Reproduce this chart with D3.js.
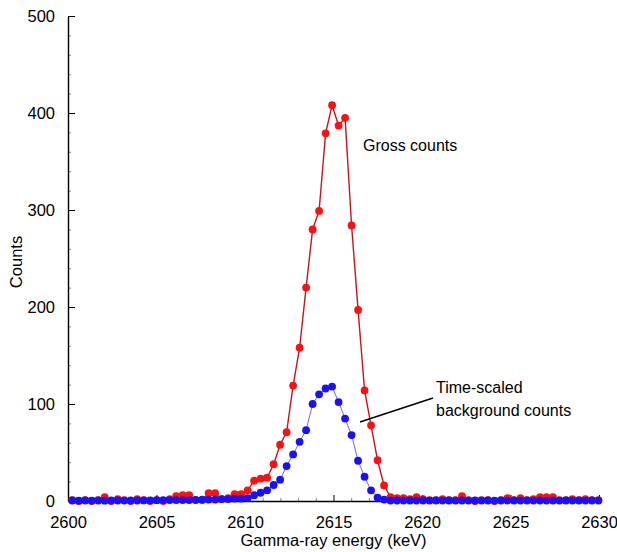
<!DOCTYPE html>
<html>
<head>
<meta charset="utf-8">
<script src="https://cdn.jsdelivr.net/npm/d3@7"></script>
<style>
  body { margin: 0; background: #fff; }
  svg { font-family: "Liberation Sans", Arial, Helvetica, sans-serif; }
  .axis path, .axis line { stroke: #000; }
  .minor line { stroke: #888; }
  .minor path { display: none; }
</style>
</head>
<body>
<div id="chart"></div>
<script>
// energia del primer canal y ancho de canal (keV)
const startEnergy = 2600.24;
const binWidth = 0.367;

// cuentas brutas (rojo)
const grossCounts = [
  1, 0, 1, 0, 1, 4, 0, 2, 1, 0,
  2, 1, 0, 1, 0, 2, 5, 6, 6, 1,
  1, 8, 8, 2, 3, 7, 7, 11, 21, 23,
  24, 38, 58, 71, 119, 158, 220, 280, 299, 379,
  408, 387, 395, 284, 197, 114, 78, 42, 16, 4,
  3, 3, 2, 4, 2, 1, 1, 2, 1, 1,
  5, 1, 0, 1, 1, 0, 1, 3, 1, 3,
  1, 2, 4, 4, 4, 1, 1, 2, 1, 2,
  1, 1
];

// fondo escalado en tiempo (azul)
const backgroundCounts = [
  0.5, 0.3, 0.5, 0.4, 0.5, 0.3, 0.5, 0.5, 0.4, 0.6,
  0.5, 0.6, 0.7, 0.8, 0.8, 1, 1, 1, 1, 1.2,
  1.5, 1.5, 1.5, 2, 2, 2.5, 2.5, 3, 6, 8.5,
  11, 16.5, 22, 36, 48, 61, 73, 100, 110, 116,
  118, 102, 85, 68, 41.5, 25, 11, 3.5, 1.5, 0.5,
  0.5, 0.4, 0.5, 0.4, 0.5, 0.4, 0.5, 0.4, 0.5, 0.4,
  0.5, 0.4, 0.5, 0.4, 0.5, 0.4, 0.5, 0.4, 0.5, 0.4,
  0.5, 0.4, 0.5, 0.4, 0.5, 0.4, 0.5, 0.4, 0.5, 0.4,
  0.5, 0.4
];

const xTicks = [2600, 2605, 2610, 2615, 2620, 2625, 2630];
const yTicks = [0, 100, 200, 300, 400, 500];

const margin = { top: 16, right: 18, bottom: 51, left: 68 };
const totalWidth = 617;
const totalHeight = 552;
const width = totalWidth - margin.left - margin.right;
const height = totalHeight - margin.top - margin.bottom;

const svg = d3.select("#chart")
  .append("svg")
  .attr("width", totalWidth)
  .attr("height", totalHeight);

const g = svg.append("g")
  .attr("transform", `translate(${margin.left}, ${margin.top})`);

const x = d3.scaleLinear().domain([2600, 2630]).range([0, width]);
const y = d3.scaleLinear().domain([0, 500]).range([height, 0]);

const energy = (i) => startEnergy + i * binWidth;

// marcas menores
g.append("g")
  .attr("class", "minor")
  .attr("transform", `translate(0, ${height})`)
  .call(d3.axisBottom(x).tickValues(d3.range(2601, 2630, 1).filter((d) => d % 5 !== 0)).tickSize(-3).tickFormat(""));

g.append("g")
  .attr("class", "minor")
  .call(d3.axisLeft(y).tickValues(d3.range(20, 500, 20).filter((d) => d % 100 !== 0)).tickSize(-3).tickFormat(""));

// ejes principales
const xAxis = g.append("g")
  .attr("class", "axis")
  .attr("transform", `translate(0, ${height})`)
  .call(d3.axisBottom(x).tickValues(xTicks).tickSizeInner(-6).tickSizeOuter(0).tickPadding(15).tickFormat(d3.format("d")));

const yAxis = g.append("g")
  .attr("class", "axis")
  .call(d3.axisLeft(y).tickValues(yTicks).tickSizeInner(-7).tickSizeOuter(0).tickPadding(13));

svg.selectAll(".axis path").attr("stroke-width", 1.4);
svg.selectAll(".axis text").attr("font-size", 16.5).attr("fill", "#000")
  .attr("font-family", "'Liberation Sans', Arial, sans-serif");

// titulos
svg.append("text")
  .attr("x", margin.left + width / 2)
  .attr("y", 546)
  .attr("text-anchor", "middle")
  .attr("font-size", 16.5)
  .text("Gamma-ray energy (keV)");

svg.append("text")
  .attr("transform", `translate(22, 262) rotate(-90)`)
  .attr("text-anchor", "middle")
  .attr("font-size", 16.5)
  .text("Counts");

const line = d3.line()
  .x((d, i) => x(energy(i)))
  .y((d) => y(d));

// series
g.append("path")
  .datum(grossCounts)
  .attr("fill", "none")
  .attr("stroke", "#c4161c")
  .attr("stroke-width", 1.4)
  .attr("d", line);

g.selectAll(".gross")
  .data(grossCounts)
  .enter()
  .append("circle")
  .attr("class", "gross")
  .attr("cx", (d, i) => x(energy(i)))
  .attr("cy", (d) => y(d))
  .attr("r", 3.9)
  .attr("fill", "#ff1010");

g.append("path")
  .datum(backgroundCounts)
  .attr("fill", "none")
  .attr("stroke", "#6a6aff")
  .attr("stroke-width", 1)
  .attr("d", line);

g.selectAll(".bg")
  .data(backgroundCounts)
  .enter()
  .append("circle")
  .attr("class", "bg")
  .attr("cx", (d, i) => x(energy(i)))
  .attr("cy", (d) => y(d))
  .attr("r", 3.9)
  .attr("fill", "#1a10ff");

// anotaciones
svg.append("text")
  .attr("x", 363)
  .attr("y", 151)
  .attr("font-size", 16)
  .text("Gross counts");

const note = svg.append("text")
  .attr("x", 436)
  .attr("font-size", 16);
note.append("tspan").attr("x", 436).attr("y", 393).text("Time-scaled");
note.append("tspan").attr("x", 436).attr("y", 416).text("background counts");

svg.append("line")
  .attr("x1", 360).attr("y1", 422)
  .attr("x2", 433).attr("y2", 398)
  .attr("stroke", "#000")
  .attr("stroke-width", 1.4);
</script>
</body>
</html>
